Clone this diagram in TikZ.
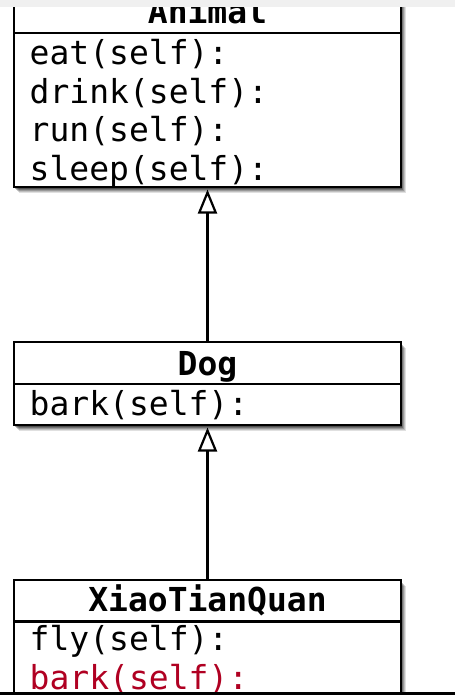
\documentclass[tikz,border=0pt]{standalone}
\usepackage{fontspec}
\newfontfamily\umlmono{DejaVu Sans Mono}
\usetikzlibrary{arrows.meta,shadows}
\definecolor{stripgrey}{RGB}{240,240,240}
\definecolor{overred}{RGB}{176,0,34}
\tikzset{
  softshadow/.style={
    drop shadow={shadow xshift=5pt, shadow yshift=-6pt, opacity=0.12, fill=black},
    drop shadow={shadow xshift=4pt, shadow yshift=-5pt, opacity=0.15, fill=black},
    drop shadow={shadow xshift=3pt, shadow yshift=-4pt, opacity=0.2, fill=black},
    drop shadow={shadow xshift=2pt, shadow yshift=-3pt, opacity=0.25, fill=black},
    drop shadow={shadow xshift=1pt, shadow yshift=-2pt, opacity=0.3, fill=black}},
  classbox/.style={draw=black, line width=2.5pt, fill=white, inner sep=0pt, outer sep=0pt,
    minimum width=387pt, anchor=north west, softshadow},
  divider/.style={line width=2.5pt},
  classtitle/.style={font=\umlmono\bfseries\fontsize{33}{38.7}\selectfont, inner sep=0pt, anchor=base},
  member/.style={font=\umlmono\fontsize{33}{38.7}\selectfont, inner sep=0pt, anchor=base west},
  inherit/.style={line width=2.2pt, -{Triangle[open, length=24pt, width=19pt, line width=2.2pt]}, shorten >=2.5pt}
}
\begin{document}
\begin{tikzpicture}[x=1pt,y=-1pt]
\useasboundingbox (0,0) rectangle (455,695);
\clip (0,0) rectangle (455,695);
% Animal
\node[classbox, minimum height=196pt] (animal) at (14,-9) {};
\draw[divider] (14,33) -- (401,33);
\node[classtitle] (animalt) at (207.5,24) {Animal};
\node[member] (m1) at (29.5,64.5) {eat(self):};
\node[member] (m2) at (29.5,103.2) {drink(self):};
\node[member] (m3) at (29.5,141.9) {run(self):};
\node[member] (m4) at (29.5,180.6) {sleep(self):};
% Dog
\node[classbox, minimum height=83pt] (dog) at (14,342) {};
\draw[divider] (14,384) -- (401,384);
\node[classtitle] (dogt) at (207.5,375) {Dog};
\node[member] (d1) at (29.5,415) {bark(self):};
% XiaoTianQuan
\node[classbox, minimum height=160pt] (xtq) at (14,580) {};
\draw[divider] (14,621.5) -- (401,621.5);
\node[classtitle] (xtqt) at (207.5,611.5) {XiaoTianQuan};
\node[member] (x1) at (29.5,650.5) {fly(self):};
\node[member, text=overred] (x2) at (29.5,689) {bark(self):};
% inheritance
\draw[inherit] (dog.north) -- (animal.south);
\draw[inherit] (xtq.north) -- (dog.south);
% frame artifacts
\fill[stripgrey] (0,0) rectangle (455,7);
\fill[black] (0,692) rectangle (455,695);
\end{tikzpicture}
\end{document}
